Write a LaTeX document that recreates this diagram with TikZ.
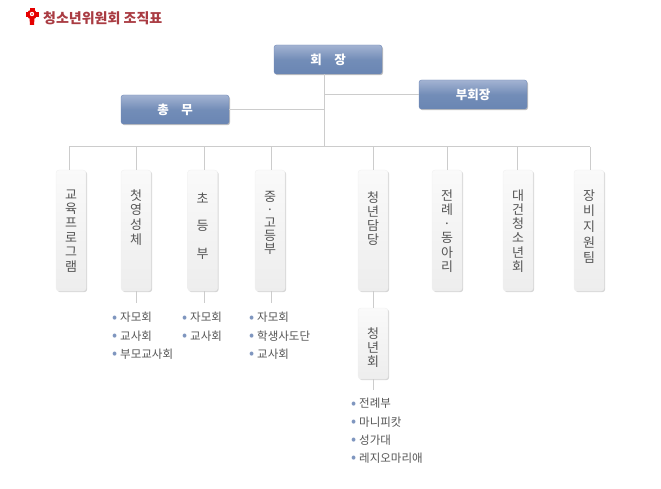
\documentclass[tikz,border=0pt]{standalone}
\usepackage{fontspec}
\setmainfont{Noto Sans CJK KR}
\usetikzlibrary{shadows}
\definecolor{linegray}{HTML}{CCCCCC}
\definecolor{boxtop}{HTML}{A3B3D2}
\definecolor{boxbottom}{HTML}{6A86B3}
\definecolor{boxedge}{HTML}{6F88B8}
\definecolor{textgray}{HTML}{555555}
\definecolor{dotblue}{HTML}{7F96BF}
\definecolor{titlered}{HTML}{A93B42}
\newcommand{\stacked}[2][14.4pt]{\parbox[c][82pt][t]{20pt}{\centering\baselineskip=#1 #2}}
\newcommand{\dotitem}{\makebox[8pt][l]{\textcolor{dotblue}{\fontsize{15}{12}\selectfont\raisebox{-.5pt}{•}}}}
\tikzset{
    headbox/.style={draw=boxedge, rounded corners=2.5pt, minimum width=108pt, minimum height=29pt, inner sep=0pt,
        top color=boxtop, bottom color=boxbottom, middle color=boxbottom!85!boxtop,
        drop shadow={shadow xshift=1pt, shadow yshift=-1.2pt, opacity=.25, fill=black},
        text=white, font=\fontsize{12.5}{12.5}\selectfont\bfseries},
    deptbox/.style={draw=black!6, rounded corners=3pt, minimum width=30pt, inner sep=0pt,
        top color=white!98!black, bottom color=black!7,
        drop shadow={shadow xshift=1.2pt, shadow yshift=-1.2pt, opacity=.16, fill=black},
        text=textgray, font=\fontsize{13}{14}\selectfont},
    listitem/.style={anchor=west, inner sep=0pt, text=textgray, font=\fontsize{11.5}{12}\selectfont},
    link/.style={draw=linegray, line width=1pt}
}
\begin{document}
\begin{tikzpicture}[x=1pt, y=1pt]
    \useasboundingbox (0,0) rectangle (661,-489);

    % title with its cross
    \fill[red!90!black] (32,-14.5) circle (5pt);
    \fill[red!90!black] (29.5,-8) rectangle (34.5,-12);
    \fill[red!90!black] (25.5,-12) rectangle (38.5,-17);
    \fill[red!90!black] (29.5,-18) -- (34.5,-18) -- (34,-25) -- (30,-25) -- cycle;
    \fill[white] (32,-14) circle (2.2pt);
    \fill[red!90!black] (32,-14) circle (.9pt);
    \draw (43,-18.5) node[anchor=west, inner sep=0pt, text=titlered, font=\fontsize{14}{14}\selectfont\bfseries] (title) {청소년위원회 조직표};

    \draw (328,-59.5) node[headbox] (chair) {회\hspace{1em}장};
    \draw (473,-94.5) node[headbox] (vice) {부회장};
    \draw (175,-109.5) node[headbox] (sec) {총\hspace{1em}무};

    \draw (71,-230.5) node[deptbox, minimum height=121pt] (edu) {\stacked{교\\육\\프\\로\\그\\램}};
    \draw (136,-230.5) node[deptbox, minimum height=121pt] (comm) {\stacked[14.7pt]{첫\\영\\성\\체}};
    \draw (202.5,-230.5) node[deptbox, minimum height=121pt] (elem) {\stacked[27.5pt]{\vspace*{3pt}초\\등\\부}};
    \draw (270,-230.5) node[deptbox, minimum height=121pt] (mid) {\stacked[13pt]{\vspace*{2pt}중\\·\\고\\등\\부}};
    \draw (373,-230.5) node[deptbox, minimum height=121pt] (youth) {\stacked[14pt]{\vspace*{2pt}청\\년\\담\\당}};
    \draw (447,-230.5) node[deptbox, minimum height=121pt] (lit) {\stacked[14.2pt]{전\\례\\·\\동\\아\\리}};
    \draw (518,-230.5) node[deptbox, minimum height=121pt] (univ) {\stacked[14.2pt]{대\\건\\청\\소\\년\\회}};
    \draw (589,-230.5) node[deptbox, minimum height=121pt] (supp) {\stacked[15.6pt]{장\\비\\지\\원\\팀}};
    \draw (373,-343.5) node[deptbox, minimum height=71pt] (yc) {\parbox[c][32pt][t]{20pt}{\centering\baselineskip=14pt 청\\년\\회}};

    \coordinate (bar) at (324,-147);
    \coordinate (barleft) at (69,-147);
    \coordinate (barright) at (590,-147);
    \coordinate (eduup) at (69,-147);
    \coordinate (commup) at (136,-147);
    \coordinate (elemup) at (204,-147);
    \coordinate (midup) at (271,-147);
    \coordinate (commdown) at (136,-303);
    \coordinate (elemdown) at (204,-303);
    \coordinate (middown) at (271,-303);
    \coordinate (ycdown) at (373,-390);
    \coordinate (univup) at (517,-147);
    \coordinate (suppup) at (590,-147);

    \draw[link] (chair.south -| bar) -- (bar);
    \draw[link] (barleft) -- (barright);
    \draw[link] (sec.east) -- (sec.east -| bar);
    \draw[link] (vice.west) -- (vice.west -| bar);
    \draw[link] (eduup) -- (eduup |- edu.north);
    \draw[link] (commup) -- (comm.north);
    \draw[link] (elemup) -- (elemup |- elem.north);
    \draw[link] (midup) -- (midup |- mid.north);
    \draw[link] (youth.north |- bar) -- (youth.north);
    \draw[link] (lit.north |- bar) -- (lit.north);
    \draw[link] (univup) -- (univup |- univ.north);
    \draw[link] (suppup) -- (suppup |- supp.north);
    \draw[link] (comm.south) -- (commdown);
    \draw[link] (elemdown |- elem.south) -- (elemdown);
    \draw[link] (middown |- mid.south) -- (middown);
    \draw[link] (youth.south) -- (yc.north);
    \draw[link] (yc.south) -- (ycdown);

    \draw (112,-317.5) node[listitem] (c1) {\dotitem 자모회};
    \draw (112,-336) node[listitem] (c2) {\dotitem 교사회};
    \draw (112,-354) node[listitem] (c3) {\dotitem 부모교사회};
    \draw (182,-317.5) node[listitem] (e1) {\dotitem 자모회};
    \draw (182,-336) node[listitem] (e2) {\dotitem 교사회};
    \draw (249,-317.5) node[listitem] (m1) {\dotitem 자모회};
    \draw (249,-336) node[listitem] (m2) {\dotitem 학생사도단};
    \draw (249,-354) node[listitem] (m3) {\dotitem 교사회};
    \draw (351,-403.5) node[listitem] (y1) {\dotitem 전례부};
    \draw (351,-422) node[listitem] (y2) {\dotitem 마니피캇};
    \draw (351,-440) node[listitem] (y3) {\dotitem 성가대};
    \draw (351,-458) node[listitem] (y4) {\dotitem 레지오마리애};
\end{tikzpicture}
\end{document}
